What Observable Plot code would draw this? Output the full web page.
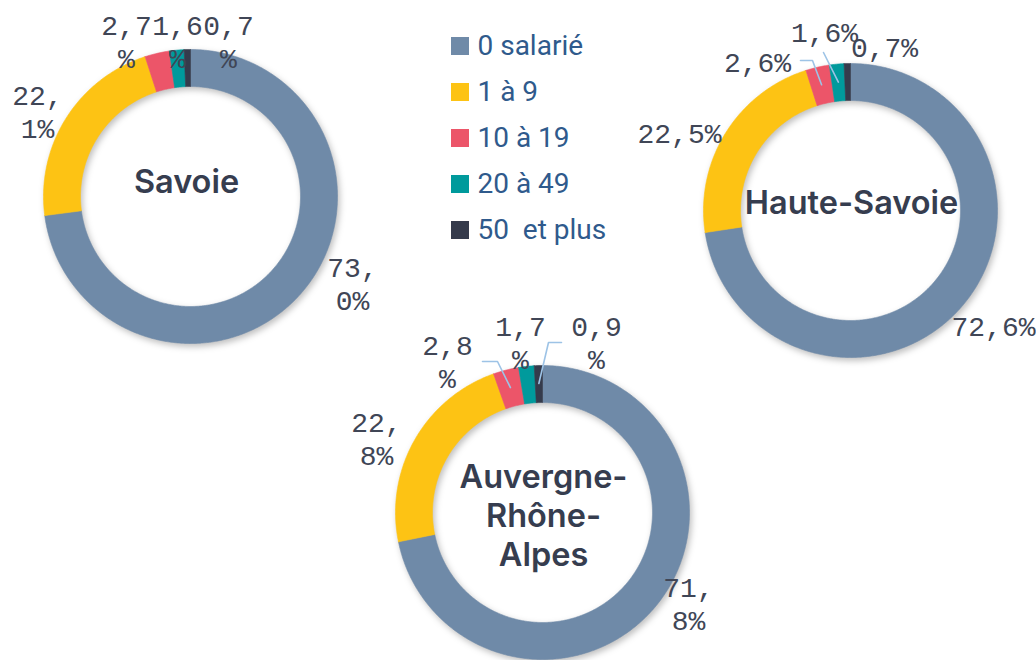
<!DOCTYPE html>
<html><head><meta charset="utf-8">
<script src="https://cdn.jsdelivr.net/npm/d3@7"></script>
<script src="https://cdn.jsdelivr.net/npm/@observablehq/plot@0.6"></script>
<style>
body{margin:0;background:#fff;}
svg text{white-space:pre;}
</style></head><body><div id="chart"></div>
<script>
// ---- data ----
const categories = ["0 salarié", "1 à 9", "10 à 19", "20 à 49", "50  et plus"];
const colors = ["#6f8aa8", "#fdc314", "#ec5569", "#009a9c", "#353b4c"];
const regions = ["Savoie", "Haute-Savoie", "Auvergne-Rhône-Alpes"];
const titles = ["Savoie", "Haute-Savoie", "Auvergne-\nRhône-\nAlpes"];
const savoie = [73.0, 22.1, 2.7, 1.6, 0.7];
const hauteSavoie = [72.6, 22.5, 2.6, 1.6, 0.7];
const auvergneRhoneAlpes = [71.8, 22.8, 2.8, 1.7, 0.9];
const seriesValues = [savoie, hauteSavoie, auvergneRhoneAlpes];

// ---- layout ----
const W = 1036, H = 660;
const centers = [[190, 196], [850, 210], [542, 512]];
const rOuter = 147, rInner = 110, rLeader = 129;
const labelWrap = [3, 0, 3];
const labelOffsets = [
  [[162, 86], [-153, -86], [-64, -156], [-13, -156], [38, -156]],
  [[143, 115], [-171, -78], [-93, -149], [-26, -179], [34, -164]],
  [[146, 90], [-166, -75], [-95, -152], [-22, -171], [54, -171]]
];
const leaderLayout = [
  {donut: 1, cat: 2, start: [-50, -150], elbow: [-38, -150]},
  {donut: 1, cat: 3, start: [-27, -158], elbow: [-27, -158]},
  {donut: 2, cat: 2, start: [-60, -151], elbow: [-45, -151]},
  {donut: 2, cat: 4, start: [19, -170], elbow: [6, -170]}
];
const titleCenters = [[186, 180], [851, 201], [543, 514]];
const legendX = 451, legendTop = 46, legendStep = 46, legendSize = 18;

// ---- derived geometry ----
const rad = d => d * Math.PI / 180;
const polar = (c, r, a) => [c[0] + r * Math.sin(rad(a)), c[1] - r * Math.cos(rad(a))];
const ringPts = [];
const slices = [];
seriesValues.forEach((vals, di) => {
  const total = d3.sum(vals);
  let acc = 0;
  vals.forEach((v, ci) => {
    const a0 = acc / total * 360, a1 = (acc + v) / total * 360;
    acc += v;
    slices.push({di, ci, a0, a1, mid: (a0 + a1) / 2, v});
    const n = Math.max(2, Math.ceil((a1 - a0) / 0.5));
    const key = regions[di] + "|" + categories[ci];
    const pts = [];
    for (let k = 0; k <= n; k++) pts.push(polar(centers[di], rOuter, a0 + (a1 - a0) * k / n));
    for (let k = n; k >= 0; k--) pts.push(polar(centers[di], rInner, a0 + (a1 - a0) * k / n));
    pts.push(pts[0]);
    pts.forEach(p => ringPts.push({key, cat: categories[ci], x: p[0], y: p[1]}));
  });
});

const fmt = v => d3.format(".1f")(v).replace(".", ",") + "%";
const labels = slices.map(s => {
  let t = fmt(s.v);
  const w = labelWrap[s.di];
  if (w > 0) t = t.slice(0, w) + "\n" + t.slice(w);
  const c = centers[s.di], o = labelOffsets[s.di][s.ci];
  return {text: t, x: c[0] + o[0], y: c[1] + o[1]};
});

const leaderPts = [];
leaderLayout.forEach((L, i) => {
  const c = centers[L.donut];
  const s = slices.find(s => s.di === L.donut && s.ci === L.cat);
  const end = polar(c, rLeader, s.mid);
  [[c[0] + L.start[0], c[1] + L.start[1]], [c[0] + L.elbow[0], c[1] + L.elbow[1]], end]
    .forEach(p => leaderPts.push({id: i, x: p[0], y: p[1]}));
});

const titleData = titles.map((t, i) => ({text: t, x: titleCenters[i][0], y: titleCenters[i][1]}));
const legendData = categories.map((c, i) => ({cat: c, y: legendTop + i * legendStep}));

const chart = Plot.plot({
  width: W, height: H, margin: 0,
  x: {domain: [0, W], range: [0, W], axis: null},
  y: {domain: [0, H], range: [0, H], axis: null},
  color: {domain: categories, range: colors},
  style: {background: "white", overflow: "visible"},
  marks: [
    Plot.line(ringPts, {x: "x", y: "y", z: "key", fill: "cat", stroke: "cat", strokeWidth: 0.6}),
    Plot.line(leaderPts, {x: "x", y: "y", z: "id", stroke: "#9dc3e6", strokeWidth: 1.6}),
    Plot.text(labels, {x: "x", y: "y", text: "text", fontFamily: "Liberation Mono, monospace", fontSize: 28, lineHeight: 1.18, fill: "#404656"}),
    Plot.text(titleData, {x: "x", y: "y", text: "text", fontFamily: "Inter, Roboto, sans-serif", fontWeight: 600, fontSize: 32.5, lineHeight: 1.2, fill: "#363d4f"}),
    Plot.rect(legendData, {x1: () => legendX, x2: () => legendX + legendSize, y1: d => d.y - legendSize / 2, y2: d => d.y + legendSize / 2, fill: "cat"}),
    Plot.text(legendData, {x: () => legendX + legendSize + 8, y: "y", text: "cat", textAnchor: "start", fontFamily: "Roboto, sans-serif", fontSize: 28, fill: "#2f5a8c"})
  ]
});
document.getElementById("chart").appendChild(chart);
const lineGroups = chart.querySelectorAll('g[aria-label="line"]');
if (lineGroups.length) lineGroups[0].style.filter = "drop-shadow(2px 3px 3px rgba(0,0,0,0.25))";
</script></body></html>
